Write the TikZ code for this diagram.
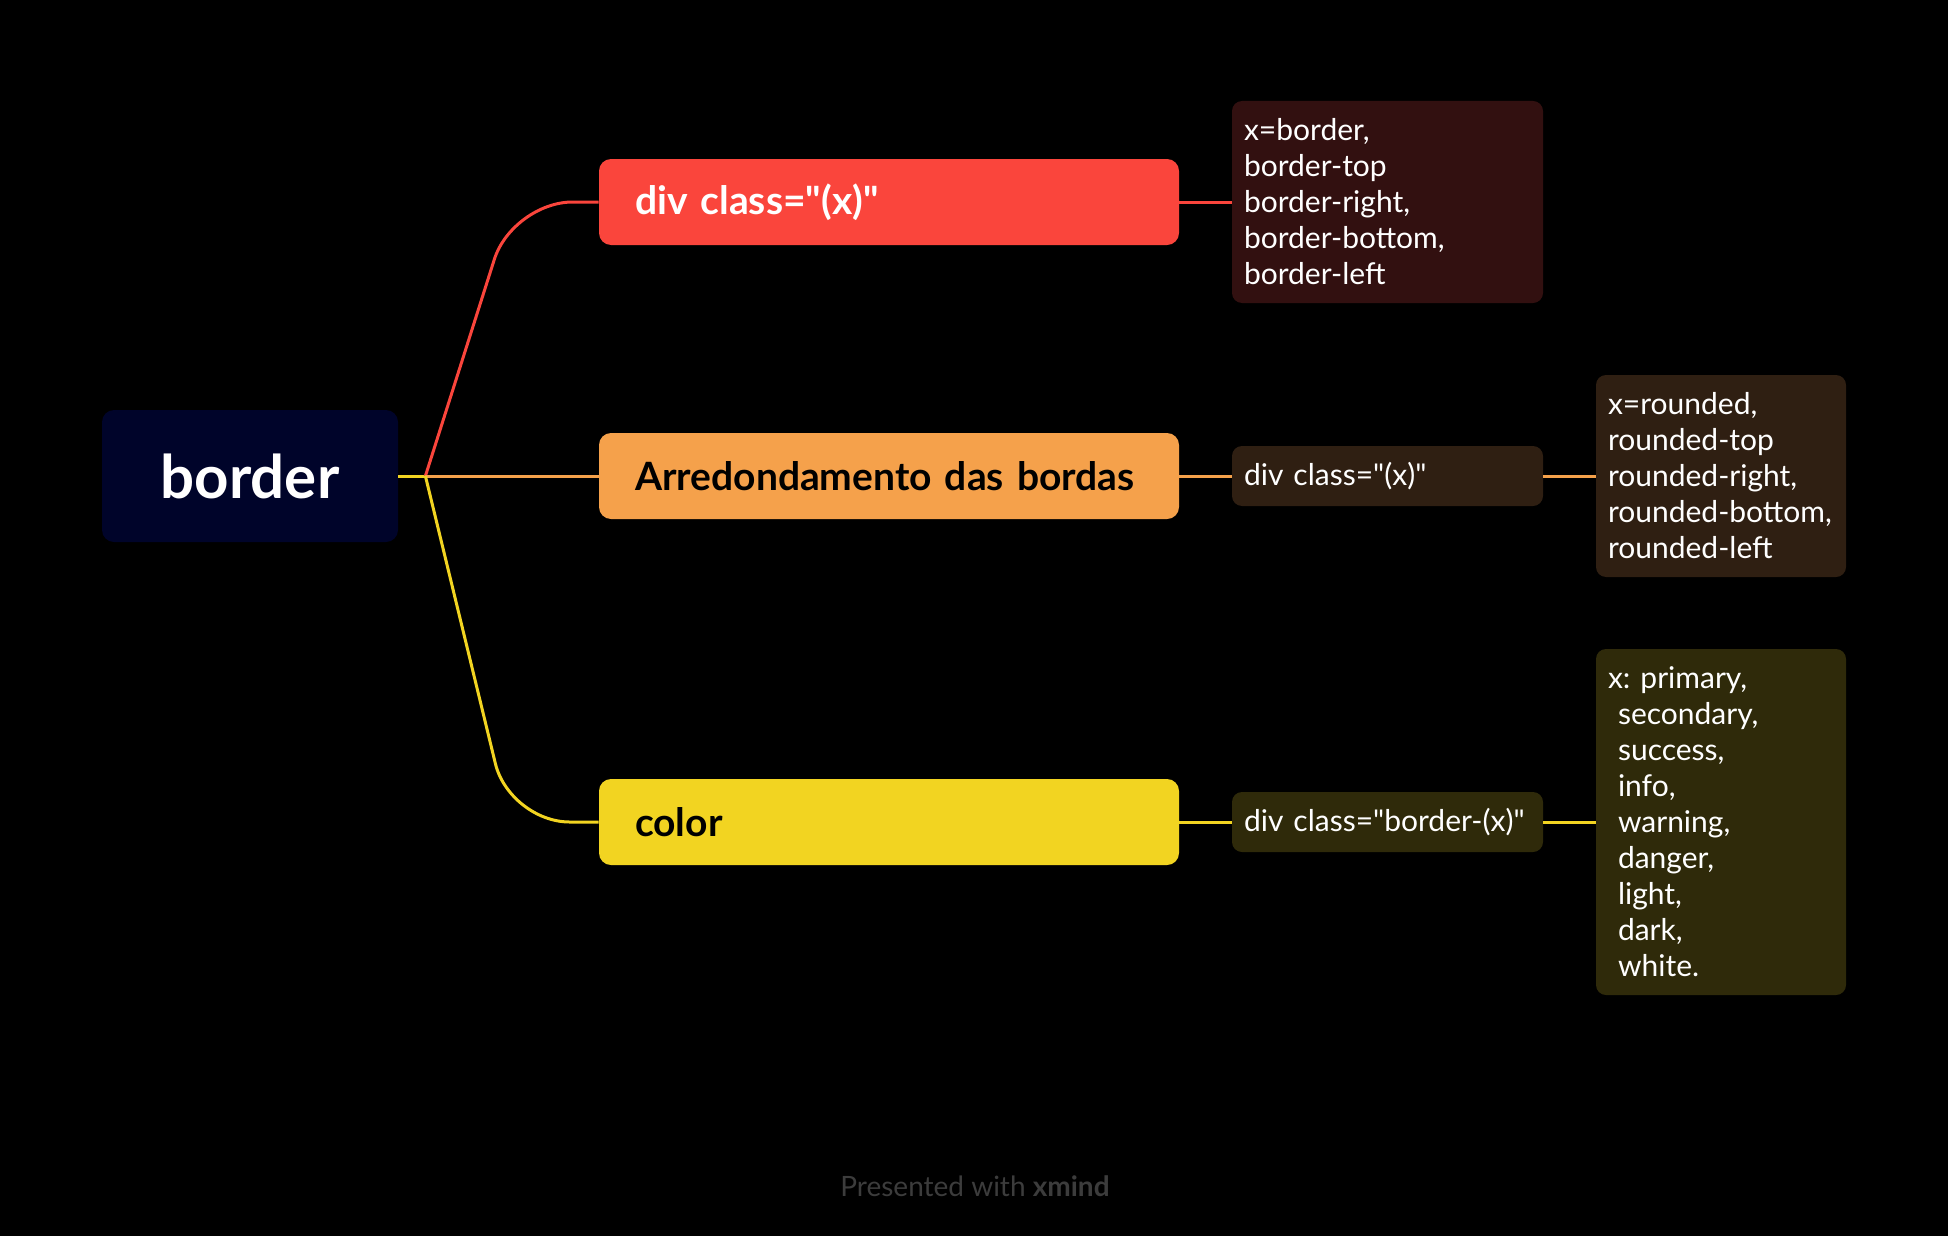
\documentclass[tikz,border=0pt]{standalone}
\usepackage{fontspec}
\setmainfont{Lato}[Ligatures=TeXOff]
\usetikzlibrary{calc, positioning}

\definecolor{redc}{HTML}{FA453C}
\definecolor{orangec}{HTML}{F5A14B}
\definecolor{yellowc}{HTML}{F2D421}
\definecolor{rootfill}{HTML}{00042A}
\definecolor{reddark}{HTML}{321010}
\definecolor{orangedark}{HTML}{2F1F12}
\definecolor{yellowdark}{HTML}{2F2A0A}
\definecolor{creditgray}{HTML}{3C3C3C}

\tikzset{
  rootbox/.style={fill=rootfill, rounded corners=6pt, minimum width=148pt, minimum height=66pt,
    text=white, font=\bfseries\fontsize{30}{36}\selectfont},
  topic/.style={rounded corners=6pt, minimum height=43pt, text width=254pt, inner xsep=18pt,
    align=left, font=\bfseries\fontsize{19.5}{24}\selectfont},
  note/.style={rounded corners=5pt, inner xsep=6pt, inner ysep=5pt, align=left, text=white,
    font=\fontsize{15}{18}\selectfont},
  link/.style={line width=1.5pt},
}

\begin{document}
\begin{tikzpicture}[x=0.5pt, y=-0.5pt]
    % Background and page size
    \fill[black] (0,0) rectangle (1948,1236);
    \useasboundingbox (0,0) rectangle (1948,1236);

    % Central topic
    \node[rootbox] (root) at (250,476) {border};
    \coordinate (junc) at ($(root.east)+(27,0)$);

    % Main branches
    \node[topic, fill=redc, text=white] (divbox) at (889,202) {div class="(x)"};
    \node[topic, fill=orangec, text=black] (roundbox) at (889,476) {Arredondamento das bordas};
    \node[topic, fill=yellowc, text=black] (colorbox) at (889,822) {color};

    % Notes
    \node[note, fill=reddark, text width=143.5pt, minimum height=101pt] (bordernote) at (1387.5,202)
      {x=border,\\border-top\\border-right,\\border-bottom,\\border-left};
    \node[note, fill=orangedark, text width=143.5pt, minimum height=30pt] (rounddiv) at (1387.5,476)
      {div class="(x)"};
    \node[note, fill=orangedark, text width=113pt, minimum height=101pt] (roundnote) at (1721,476)
      {x=rounded,\\rounded-top\\rounded-right,\\rounded-bottom,\\rounded-left};
    \node[note, fill=yellowdark, text width=143.5pt, minimum height=30pt] (colordiv) at (1387.5,822)
      {div class="border-(x)"};
    \node[note, fill=yellowdark, text width=113pt, minimum height=173pt] (colornote) at (1721,822)
      {x:\ primary,\\\ secondary,\\\ success,\\\ info,\\\ warning,\\\ danger,\\\ light,\\\ dark,\\\ white.};

    % Connectors
    \draw[link, yellowc] (root.east) -- (junc);
    \draw[link, redc, rounded corners=30pt] (junc) -- ($(divbox.west)+(-86,0)$) -- (divbox.west);
    \draw[link, orangec] (junc) -- (roundbox.west);
    \draw[link, yellowc, rounded corners=30pt] (junc) -- ($(colorbox.west)+(-89,0)$) -- (colorbox.west);
    \draw[link, redc] (divbox.east) -- (bordernote.west);
    \draw[link, orangec] (roundbox.east) -- (rounddiv.west);
    \draw[link, orangec] (rounddiv.east) -- (roundnote.west);
    \draw[link, yellowc] (colorbox.east) -- (colordiv.west);
    \draw[link, yellowc] (colordiv.east) -- (colornote.west);

    % Footer
    \node[text=creditgray, font=\fontsize{14}{17}\selectfont] (credit) at (975,1186)
      {Presented with \textbf{xmind}};
\end{tikzpicture}
\end{document}
